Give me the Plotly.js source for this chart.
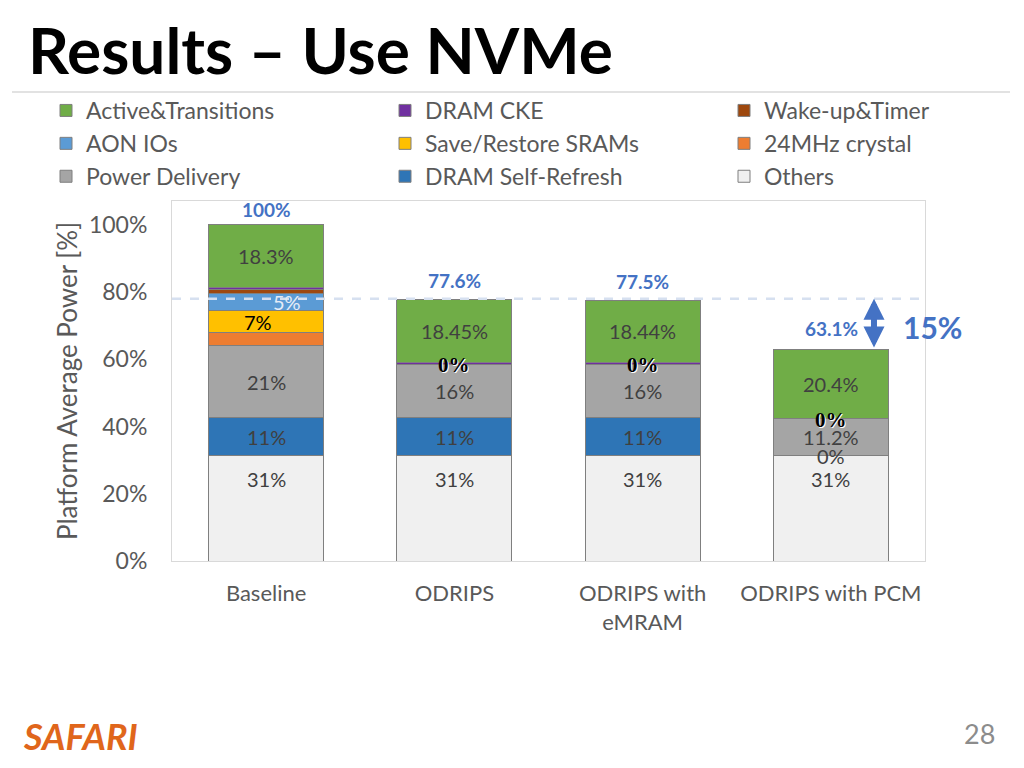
<!DOCTYPE html>
<html>
<head>
<meta charset="utf-8">
<script src="https://cdn.plot.ly/plotly-3.0.1.min.js"></script>
<style>html,body{margin:0;padding:0;background:#fff;}#chart{width:1024px;height:768px;}</style>
</head>
<body>
<div id="chart"></div>
<script>
// ---- data (percent of baseline platform power) ----
const categories = ['Baseline', 'ODRIPS', 'ODRIPS with<br>eMRAM', 'ODRIPS with PCM'];
const others        = [31.3, 31.3, 31.3, 31.3];
const selfRefresh   = [11.3, 11.3, 11.3, 0];
const powerDelivery = [21.5, 15.8, 15.8, 11.2];
const crystal       = [3.8, 0, 0, 0];
const srams         = [6.6, 0, 0, 0];
const aon           = [5.0, 0, 0, 0];
const wakeup        = [1.2, 0, 0, 0];
const cke           = [0.8, 0.8, 0.8, 0];
const active        = [18.5, 18.45, 18.44, 20.4];

const labelsOthers   = ['31%', '31%', '31%', '31%'];
const labelsSelfRef  = ['11%', '11%', '11%', '0%'];
const labelsPD       = ['21%', '16%', '16%', '11.2%'];
const labelsSRAM     = ['7%', '', '', ''];
const labelsAON      = ['5%', '', '', ''];
const labelsCKE      = ['', '0%', '0%', '0%'];
const labelsActive   = ['18.3%', '18.45%', '18.44%', '20.4%'];
const totals         = ['100%', '77.6%', '77.5%', '63.1%'];
const totalValues    = [100, 77.6, 77.5, 63.1];
const reductionLabel = '15%';
const referenceLevel = 78;

const tickVals = [0, 20, 40, 60, 80, 100];
const tickText = ['0%', '20%', '40%', '60%', '80%', '100%'];

// ---- layout geometry helpers ----
const W = 1024, H = 768;
const M = {l: 172, r: 99, t: 201, b: 207};
const PW = W - M.l - M.r, PH = H - M.t - M.b;
const px = x => (x - M.l) / PW;
const py = y => (H - M.b - y) / PH;

const FONT = 'Lato, "Open Sans", sans-serif';
const GREY = '#595959';
const LBL = '#404040';
const BLUE = '#4472C4';

// series in stacking order (bottom -> top); rank = row inside its legend column
const series = [
  {name: 'Others', y: others, color: '#F0F0F0', legend: 'legend3', rank: 3},
  {name: 'DRAM Self-Refresh', y: selfRefresh, color: '#2E75B6', legend: 'legend2', rank: 3},
  {name: 'Power Delivery', y: powerDelivery, color: '#A5A5A5', legend: 'legend', rank: 3},
  {name: '24MHz crystal', y: crystal, color: '#ED7D31', legend: 'legend3', rank: 2},
  {name: 'Save/Restore SRAMs', y: srams, color: '#FFC000', legend: 'legend2', rank: 2},
  {name: 'AON IOs', y: aon, color: '#5B9BD5', legend: 'legend', rank: 2},
  {name: 'Wake-up&Timer', y: wakeup, color: '#9E480E', legend: 'legend3', rank: 1},
  {name: 'DRAM CKE', y: cke, color: '#7030A0', legend: 'legend2', rank: 1},
  {name: 'Active&Transitions', y: active, color: '#70AD47', legend: 'legend', rank: 1}
];

const traces = series.map(s => ({
  type: 'bar',
  name: s.name,
  x: categories,
  y: s.y,
  legend: s.legend,
  legendgroup: s.name,
  legendrank: s.rank,
  marker: {color: s.color, line: {color: '#7F7F7F', width: 1}},
  hoverinfo: 'name+y'
}));

// ---- segment labels (placed at segment centers via data coords) ----
const annotations = [];
function segCenter(seriesIdx, catIdx) {
  let base = 0;
  for (let k = 0; k < seriesIdx; k++) base += series[k].y[catIdx];
  return base + series[seriesIdx].y[catIdx] / 2;
}
function addLabels(seriesIdx, labels, style) {
  labels.forEach((t, i) => {
    if (!t) return;
    annotations.push(Object.assign({
      x: categories[i], y: segCenter(seriesIdx, i), xref: 'x', yref: 'y',
      text: t, showarrow: false,
      font: {family: FONT, size: 20, color: LBL}
    }, style));
  });
}
addLabels(0, labelsOthers, {yshift: 29});
addLabels(1, labelsSelfRef, {});
addLabels(2, labelsPD, {});
addLabels(4, labelsSRAM, {xshift: -8, font: {family: FONT, size: 20, color: '#000000'}});
addLabels(5, labelsAON, {xshift: 21, font: {family: FONT, size: 20, color: '#E4ECF7'}});
addLabels(7, labelsCKE, {yshift: -2, font: {family: '"Liberation Serif", serif', size: 21, color: '#000000', weight: 'bold', shadow: '1px 1px 0px #ffffff'}});
addLabels(8, labelsActive, {});

const totalShift = [2, 6, 6, 0];
totals.forEach((t, i) => {
  if (i === 3) {
    annotations.push({x: categories[i], y: totalValues[i], xref: 'x', yref: 'y', text: '<b>' + t + '</b>',
      showarrow: false, xanchor: 'right', yanchor: 'middle', xshift: 29, yshift: 20,
      font: {family: FONT, size: 19, color: BLUE}});
  } else {
    annotations.push({x: categories[i], y: totalValues[i], xref: 'x', yref: 'y', text: '<b>' + t + '</b>',
      showarrow: false, xanchor: 'center', yanchor: 'bottom', yshift: totalShift[i],
      font: {family: FONT, size: 19, color: BLUE}});
  }
});

// double arrow between reference level and PCM total
annotations.push({
  x: 3.229, y: referenceLevel, ax: 3.229, ay: totalValues[3],
  xref: 'x', yref: 'y', axref: 'x', ayref: 'y',
  text: '', showarrow: true, arrowside: 'end+start', arrowhead: 2, startarrowhead: 2,
  arrowsize: 0.7, startarrowsize: 0.7, arrowwidth: 6, arrowcolor: BLUE, standoff: 0, startstandoff: 0
});
annotations.push({x: px(932), y: py(327), xref: 'paper', yref: 'paper', xanchor: 'center', yanchor: 'middle',
  text: '<b>' + reductionLabel + '</b>', showarrow: false, font: {family: FONT, size: 30, color: BLUE}});

// footer
annotations.push({x: px(80), y: py(736), xref: 'paper', yref: 'paper', xanchor: 'center', yanchor: 'middle',
  text: '<b><i>SAFARI</i></b>', showarrow: false, font: {family: FONT, size: 36, color: '#E0661B'}});
annotations.push({x: px(979), y: py(733), xref: 'paper', yref: 'paper', xanchor: 'center', yanchor: 'middle',
  text: '28', showarrow: false, font: {family: FONT, size: 27, color: '#8C8C8C'}});

const shapes = [
  {type: 'line', xref: 'paper', yref: 'paper', x0: px(12), x1: px(1010), y0: py(92), y1: py(92),
   line: {color: '#D9D9D9', width: 1.5}},
  {type: 'line', xref: 'paper', yref: 'y', x0: 0, x1: 1, y0: referenceLevel, y1: referenceLevel,
   line: {color: '#D6E0F0', width: 2.5, dash: 'dash'}, layer: 'above'}
];

const legendCommon = {
  orientation: 'v', yref: 'paper', y: py(89), yanchor: 'top', xanchor: 'left',
  font: {family: FONT, size: 23, color: GREY}, bgcolor: 'rgba(0,0,0,0)',
  traceorder: 'grouped', tracegroupgap: 0, itemclick: false, itemdoubleclick: false
};

const layout = {
  width: W, height: H,
  margin: Object.assign({autoexpand: false}, M),
  paper_bgcolor: '#ffffff', plot_bgcolor: '#ffffff',
  barmode: 'stack', bargap: 0.39,
  title: {text: 'Results – Use NVMe', xref: 'container', yref: 'container', x: 28 / W, xanchor: 'left',
    y: 1 - 52 / H, yanchor: 'middle', font: {family: FONT, size: 64, color: '#000000', weight: 'bold'}},
  xaxis: {type: 'category', showgrid: false, zeroline: false, showline: true, mirror: true,
    linecolor: '#D9D9D9', linewidth: 1, ticks: '', ticklabelstandoff: 13,
    tickfont: {family: FONT, size: 22, color: GREY}, fixedrange: true},
  yaxis: {range: [0, 107.1], tickvals: tickVals, ticktext: tickText, showgrid: false, zeroline: false,
    showline: true, mirror: true, linecolor: '#D9D9D9', linewidth: 1, ticks: '', ticklabelstandoff: 19,
    tickfont: {family: FONT, size: 23, color: GREY}, fixedrange: true,
    title: {text: 'Platform Average Power [%]', standoff: 3, font: {family: FONT, size: 26, color: GREY}}},
  legend: Object.assign({}, legendCommon, {x: px(46)}),
  legend2: Object.assign({}, legendCommon, {x: px(385)}),
  legend3: Object.assign({}, legendCommon, {x: px(724)}),
  annotations: annotations,
  shapes: shapes,
  hovermode: false
};

Plotly.newPlot('chart', traces, layout, {displayModeBar: false, staticPlot: true});
</script>
</body>
</html>
